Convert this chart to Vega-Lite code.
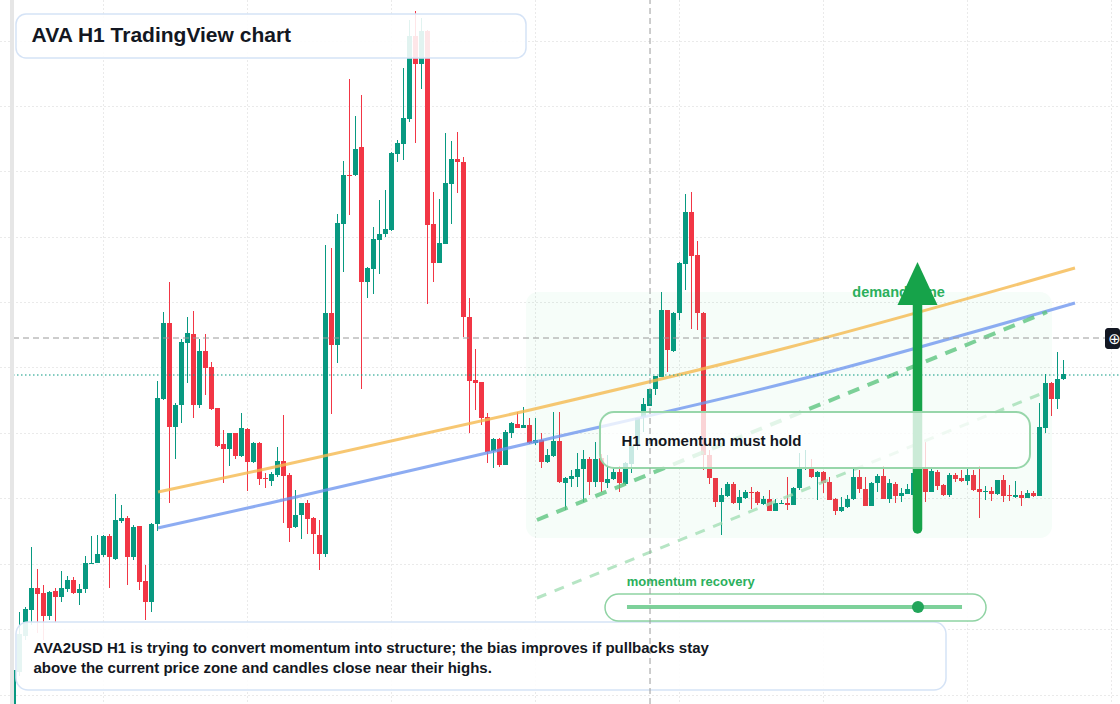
{
  "$schema": "https://vega.github.io/schema/vega-lite/v6.json",
  "width": 1120,
  "height": 704,
  "autosize": {"type": "none"},
  "padding": 0,
  "background": "#ffffff",
  "config": {
    "view": {"stroke": null},
    "font": "Liberation Sans",
    "scale": {"continuousPadding": 0},
    "axis": {"labels": false, "ticks": false, "domain": false, "title": null, "minExtent": 0, "maxExtent": 0, "labelPadding": 0, "tickSize": 0, "offset": 0, "titlePadding": 0}
  },
  "data": {"values": [{"k": 1}]},
  "datasets": {
    "candles": [
      {"i":0,"o":0.296,"h":0.332,"l":0.296,"c":0.330},
      {"i":1,"o":0.328,"h":0.388,"l":0.324,"c":0.366},
      {"i":2,"o":0.364,"h":0.393,"l":0.360,"c":0.391},
      {"i":3,"o":0.390,"h":0.453,"l":0.375,"c":0.412},
      {"i":4,"o":0.412,"h":0.431,"l":0.367,"c":0.406},
      {"i":5,"o":0.407,"h":0.415,"l":0.360,"c":0.384},
      {"i":6,"o":0.384,"h":0.409,"l":0.380,"c":0.408},
      {"i":7,"o":0.409,"h":0.412,"l":0.378,"c":0.403},
      {"i":8,"o":0.403,"h":0.429,"l":0.398,"c":0.412},
      {"i":9,"o":0.411,"h":0.424,"l":0.408,"c":0.420},
      {"i":10,"o":0.420,"h":0.423,"l":0.406,"c":0.407},
      {"i":11,"o":0.407,"h":0.416,"l":0.395,"c":0.411},
      {"i":12,"o":0.411,"h":0.444,"l":0.407,"c":0.437},
      {"i":13,"o":0.436,"h":0.464,"l":0.436,"c":0.437},
      {"i":14,"o":0.437,"h":0.465,"l":0.437,"c":0.446},
      {"i":15,"o":0.445,"h":0.465,"l":0.443,"c":0.464},
      {"i":16,"o":0.464,"h":0.466,"l":0.412,"c":0.443},
      {"i":17,"o":0.441,"h":0.506,"l":0.440,"c":0.480},
      {"i":18,"o":0.479,"h":0.495,"l":0.477,"c":0.482},
      {"i":19,"o":0.482,"h":0.484,"l":0.415,"c":0.443},
      {"i":20,"o":0.443,"h":0.475,"l":0.440,"c":0.473},
      {"i":21,"o":0.474,"h":0.474,"l":0.410,"c":0.418},
      {"i":22,"o":0.419,"h":0.435,"l":0.380,"c":0.398},
      {"i":23,"o":0.398,"h":0.477,"l":0.388,"c":0.476},
      {"i":24,"o":0.476,"h":0.619,"l":0.469,"c":0.602},
      {"i":25,"o":0.601,"h":0.688,"l":0.600,"c":0.677},
      {"i":26,"o":0.677,"h":0.718,"l":0.497,"c":0.573},
      {"i":27,"o":0.573,"h":0.597,"l":0.541,"c":0.595},
      {"i":28,"o":0.595,"h":0.661,"l":0.577,"c":0.658},
      {"i":29,"o":0.657,"h":0.683,"l":0.617,"c":0.667},
      {"i":30,"o":0.666,"h":0.689,"l":0.582,"c":0.595},
      {"i":31,"o":0.595,"h":0.661,"l":0.592,"c":0.649},
      {"i":32,"o":0.649,"h":0.666,"l":0.605,"c":0.632},
      {"i":33,"o":0.633,"h":0.638,"l":0.590,"c":0.591},
      {"i":34,"o":0.592,"h":0.592,"l":0.553,"c":0.554},
      {"i":35,"o":0.556,"h":0.570,"l":0.517,"c":0.551},
      {"i":36,"o":0.551,"h":0.567,"l":0.534,"c":0.567},
      {"i":37,"o":0.567,"h":0.567,"l":0.541,"c":0.544},
      {"i":38,"o":0.544,"h":0.587,"l":0.543,"c":0.572},
      {"i":39,"o":0.571,"h":0.572,"l":0.509,"c":0.538},
      {"i":40,"o":0.538,"h":0.558,"l":0.537,"c":0.557},
      {"i":41,"o":0.557,"h":0.558,"l":0.515,"c":0.521},
      {"i":42,"o":0.522,"h":0.527,"l":0.512,"c":0.521},
      {"i":43,"o":0.519,"h":0.528,"l":0.514,"c":0.526},
      {"i":44,"o":0.525,"h":0.553,"l":0.523,"c":0.539},
      {"i":45,"o":0.539,"h":0.585,"l":0.477,"c":0.524},
      {"i":46,"o":0.525,"h":0.527,"l":0.458,"c":0.472},
      {"i":47,"o":0.473,"h":0.510,"l":0.472,"c":0.485},
      {"i":48,"o":0.485,"h":0.497,"l":0.461,"c":0.497},
      {"i":49,"o":0.497,"h":0.500,"l":0.466,"c":0.481},
      {"i":50,"o":0.482,"h":0.483,"l":0.446,"c":0.466},
      {"i":51,"o":0.465,"h":0.480,"l":0.430,"c":0.446},
      {"i":52,"o":0.446,"h":0.755,"l":0.443,"c":0.687},
      {"i":53,"o":0.687,"h":0.752,"l":0.586,"c":0.655},
      {"i":54,"o":0.655,"h":0.786,"l":0.637,"c":0.777},
      {"i":55,"o":0.776,"h":0.839,"l":0.728,"c":0.825},
      {"i":56,"o":0.825,"h":0.921,"l":0.785,"c":0.824},
      {"i":57,"o":0.825,"h":0.884,"l":0.824,"c":0.851},
      {"i":58,"o":0.853,"h":0.905,"l":0.611,"c":0.718},
      {"i":59,"o":0.718,"h":0.733,"l":0.702,"c":0.732},
      {"i":60,"o":0.731,"h":0.773,"l":0.706,"c":0.761},
      {"i":61,"o":0.760,"h":0.800,"l":0.726,"c":0.766},
      {"i":62,"o":0.766,"h":0.810,"l":0.763,"c":0.771},
      {"i":63,"o":0.770,"h":0.848,"l":0.769,"c":0.847},
      {"i":64,"o":0.846,"h":0.860,"l":0.838,"c":0.857},
      {"i":65,"o":0.856,"h":0.932,"l":0.840,"c":0.882},
      {"i":66,"o":0.881,"h":0.980,"l":0.878,"c":0.964},
      {"i":67,"o":0.964,"h":0.989,"l":0.857,"c":0.936},
      {"i":68,"o":0.936,"h":0.982,"l":0.911,"c":0.969},
      {"i":69,"o":0.969,"h":0.970,"l":0.696,"c":0.775},
      {"i":70,"o":0.776,"h":0.808,"l":0.718,"c":0.737},
      {"i":71,"o":0.737,"h":0.801,"l":0.737,"c":0.757},
      {"i":72,"o":0.756,"h":0.867,"l":0.756,"c":0.817},
      {"i":73,"o":0.816,"h":0.859,"l":0.776,"c":0.841},
      {"i":74,"o":0.841,"h":0.868,"l":0.807,"c":0.838},
      {"i":75,"o":0.838,"h":0.843,"l":0.663,"c":0.683},
      {"i":76,"o":0.683,"h":0.702,"l":0.567,"c":0.619},
      {"i":77,"o":0.620,"h":0.651,"l":0.590,"c":0.617},
      {"i":78,"o":0.618,"h":0.618,"l":0.575,"c":0.582},
      {"i":79,"o":0.583,"h":0.587,"l":0.537,"c":0.548},
      {"i":80,"o":0.549,"h":0.562,"l":0.532,"c":0.561},
      {"i":81,"o":0.561,"h":0.562,"l":0.533,"c":0.535},
      {"i":82,"o":0.535,"h":0.570,"l":0.535,"c":0.568},
      {"i":83,"o":0.567,"h":0.578,"l":0.562,"c":0.577},
      {"i":84,"o":0.576,"h":0.588,"l":0.572,"c":0.572},
      {"i":85,"o":0.572,"h":0.593,"l":0.572,"c":0.575},
      {"i":86,"o":0.575,"h":0.582,"l":0.556,"c":0.557},
      {"i":87,"o":0.557,"h":0.582,"l":0.555,"c":0.560},
      {"i":88,"o":0.560,"h":0.567,"l":0.532,"c":0.538},
      {"i":89,"o":0.538,"h":0.551,"l":0.537,"c":0.545},
      {"i":90,"o":0.544,"h":0.588,"l":0.543,"c":0.559},
      {"i":91,"o":0.559,"h":0.588,"l":0.517,"c":0.518},
      {"i":92,"o":0.517,"h":0.523,"l":0.490,"c":0.522},
      {"i":93,"o":0.521,"h":0.530,"l":0.513,"c":0.524},
      {"i":94,"o":0.523,"h":0.547,"l":0.513,"c":0.531},
      {"i":95,"o":0.531,"h":0.550,"l":0.498,"c":0.541},
      {"i":96,"o":0.541,"h":0.543,"l":0.505,"c":0.518},
      {"i":97,"o":0.518,"h":0.558,"l":0.513,"c":0.541},
      {"i":98,"o":0.542,"h":0.546,"l":0.508,"c":0.518},
      {"i":99,"o":0.517,"h":0.545,"l":0.512,"c":0.521},
      {"i":100,"o":0.521,"h":0.533,"l":0.520,"c":0.528},
      {"i":101,"o":0.528,"h":0.534,"l":0.508,"c":0.517},
      {"i":102,"o":0.516,"h":0.538,"l":0.515,"c":0.537},
      {"i":103,"o":0.536,"h":0.554,"l":0.527,"c":0.554},
      {"i":104,"o":0.554,"h":0.582,"l":0.550,"c":0.582},
      {"i":105,"o":0.583,"h":0.602,"l":0.568,"c":0.596},
      {"i":106,"o":0.594,"h":0.611,"l":0.594,"c":0.611},
      {"i":107,"o":0.611,"h":0.624,"l":0.605,"c":0.624},
      {"i":108,"o":0.623,"h":0.708,"l":0.623,"c":0.690},
      {"i":109,"o":0.690,"h":0.690,"l":0.628,"c":0.650},
      {"i":110,"o":0.649,"h":0.688,"l":0.648,"c":0.687},
      {"i":111,"o":0.687,"h":0.738,"l":0.680,"c":0.737},
      {"i":112,"o":0.736,"h":0.806,"l":0.710,"c":0.788},
      {"i":113,"o":0.788,"h":0.808,"l":0.671,"c":0.744},
      {"i":114,"o":0.745,"h":0.759,"l":0.670,"c":0.687},
      {"i":115,"o":0.687,"h":0.688,"l":0.530,"c":0.545},
      {"i":116,"o":0.545,"h":0.550,"l":0.516,"c":0.522},
      {"i":117,"o":0.522,"h":0.522,"l":0.493,"c":0.498},
      {"i":118,"o":0.498,"h":0.512,"l":0.465,"c":0.505},
      {"i":119,"o":0.504,"h":0.518,"l":0.503,"c":0.516},
      {"i":120,"o":0.516,"h":0.518,"l":0.496,"c":0.497},
      {"i":121,"o":0.497,"h":0.510,"l":0.490,"c":0.503},
      {"i":122,"o":0.502,"h":0.510,"l":0.501,"c":0.508},
      {"i":123,"o":0.508,"h":0.513,"l":0.491,"c":0.507},
      {"i":124,"o":0.508,"h":0.509,"l":0.495,"c":0.497},
      {"i":125,"o":0.496,"h":0.504,"l":0.495,"c":0.501},
      {"i":126,"o":0.501,"h":0.510,"l":0.489,"c":0.489},
      {"i":127,"o":0.489,"h":0.501,"l":0.489,"c":0.497},
      {"i":128,"o":0.496,"h":0.500,"l":0.496,"c":0.497},
      {"i":129,"o":0.497,"h":0.523,"l":0.490,"c":0.495},
      {"i":130,"o":0.495,"h":0.513,"l":0.495,"c":0.512},
      {"i":131,"o":0.512,"h":0.547,"l":0.510,"c":0.532},
      {"i":132,"o":0.531,"h":0.550,"l":0.530,"c":0.532},
      {"i":133,"o":0.532,"h":0.541,"l":0.522,"c":0.523},
      {"i":134,"o":0.523,"h":0.529,"l":0.500,"c":0.528},
      {"i":135,"o":0.528,"h":0.529,"l":0.507,"c":0.517},
      {"i":136,"o":0.518,"h":0.523,"l":0.500,"c":0.500},
      {"i":137,"o":0.501,"h":0.502,"l":0.485,"c":0.489},
      {"i":138,"o":0.489,"h":0.503,"l":0.488,"c":0.493},
      {"i":139,"o":0.493,"h":0.505,"l":0.492,"c":0.501},
      {"i":140,"o":0.501,"h":0.532,"l":0.500,"c":0.523},
      {"i":141,"o":0.523,"h":0.530,"l":0.507,"c":0.511},
      {"i":142,"o":0.511,"h":0.523,"l":0.494,"c":0.494},
      {"i":143,"o":0.494,"h":0.518,"l":0.494,"c":0.517},
      {"i":144,"o":0.517,"h":0.526,"l":0.508,"c":0.524},
      {"i":145,"o":0.524,"h":0.534,"l":0.501,"c":0.501},
      {"i":146,"o":0.501,"h":0.521,"l":0.497,"c":0.517},
      {"i":147,"o":0.516,"h":0.518,"l":0.497,"c":0.504},
      {"i":148,"o":0.504,"h":0.512,"l":0.498,"c":0.507},
      {"i":149,"o":0.506,"h":0.516,"l":0.506,"c":0.511},
      {"i":150,"o":0.505,"h":0.529,"l":0.497,"c":0.527},
      {"i":151,"o":0.511,"h":0.530,"l":0.508,"c":0.524},
      {"i":152,"o":0.533,"h":0.558,"l":0.498,"c":0.508},
      {"i":153,"o":0.508,"h":0.531,"l":0.508,"c":0.529},
      {"i":154,"o":0.528,"h":0.530,"l":0.510,"c":0.514},
      {"i":155,"o":0.515,"h":0.516,"l":0.504,"c":0.505},
      {"i":156,"o":0.505,"h":0.527,"l":0.503,"c":0.525},
      {"i":157,"o":0.525,"h":0.527,"l":0.518,"c":0.521},
      {"i":158,"o":0.522,"h":0.530,"l":0.518,"c":0.519},
      {"i":159,"o":0.519,"h":0.533,"l":0.515,"c":0.525},
      {"i":160,"o":0.525,"h":0.530,"l":0.509,"c":0.510},
      {"i":161,"o":0.511,"h":0.534,"l":0.482,"c":0.508},
      {"i":162,"o":0.508,"h":0.514,"l":0.500,"c":0.509},
      {"i":163,"o":0.509,"h":0.513,"l":0.499,"c":0.506},
      {"i":164,"o":0.506,"h":0.520,"l":0.505,"c":0.520},
      {"i":165,"o":0.520,"h":0.525,"l":0.498,"c":0.504},
      {"i":166,"o":0.505,"h":0.515,"l":0.499,"c":0.504},
      {"i":167,"o":0.503,"h":0.519,"l":0.502,"c":0.505},
      {"i":168,"o":0.505,"h":0.509,"l":0.494,"c":0.502},
      {"i":169,"o":0.502,"h":0.510,"l":0.502,"c":0.507},
      {"i":170,"o":0.507,"h":0.509,"l":0.503,"c":0.504},
      {"i":171,"o":0.504,"h":0.597,"l":0.504,"c":0.573},
      {"i":172,"o":0.572,"h":0.626,"l":0.567,"c":0.617},
      {"i":173,"o":0.617,"h":0.618,"l":0.584,"c":0.601},
      {"i":174,"o":0.601,"h":0.648,"l":0.591,"c":0.621},
      {"i":175,"o":0.621,"h":0.640,"l":0.620,"c":0.626}
    ]
  },
  "layer": [
    {
      "data": {"name": "candles"},
      "mark": {"type": "rule", "strokeWidth": 1, "xOffset": 0.5},
      "encoding": {
        "x": {"field": "i", "type": "quantitative", "title": null,
              "scale": {"domain": [-2.1666667, 184.5], "nice": false, "zero": false, "padding": 0},
              "axis": {"grid": true, "values": [15, 39, 63, 87, 111, 135, 159, 183], "gridColor": "#d4d4d4", "gridDash": [1, 3], "gridWidth": 1}},
        "y": {"field": "l", "type": "quantitative", "title": null,
              "scale": {"domain": [0.296, 1.0], "nice": false, "zero": false, "padding": 0},
              "axis": {"grid": true, "values": [0.305, 0.371, 0.436, 0.502, 0.567, 0.633, 0.698, 0.763, 0.829, 0.894, 0.959], "gridColor": "#d4d4d4", "gridDash": [1, 3], "gridWidth": 1}},
        "y2": {"field": "h"},
        "color": {"condition": {"test": "datum.c >= datum.o", "value": "#089981"}, "value": "#f23645"}
      }
    },
    {
      "data": {"name": "candles"},
      "mark": {"type": "bar", "size": 5, "orient": "vertical", "xOffset": 0.5},
      "encoding": {
        "x": {"field": "i", "type": "quantitative", "title": null},
        "y": {"field": "o", "type": "quantitative", "title": null},
        "y2": {"field": "c"},
        "color": {"condition": {"test": "datum.c >= datum.o", "value": "#089981"}, "value": "#f23645"}
      }
    },
    {
      "mark": {"type": "rect", "fill": "#22c55e", "fillOpacity": 0.04, "cornerRadius": 12},
      "encoding": {"x": {"datum": 85.5}, "x2": {"datum": 173.17}, "y": {"datum": 0.708}, "y2": {"datum": 0.462}}
    },
    {
      "data": {"values": [{"i": 24.17, "p": 0.508}, {"i": 42.83, "p": 0.532}, {"i": 86.17, "p": 0.590}, {"i": 129.5, "p": 0.653}, {"i": 177, "p": 0.732}]},
      "mark": {"type": "line", "color": "#f5b94f", "strokeWidth": 3, "opacity": 0.8, "interpolate": "monotone"},
      "encoding": {"x": {"field": "i", "type": "quantitative", "title": null}, "y": {"field": "p", "type": "quantitative", "title": null}}
    },
    {
      "data": {"values": [{"i": 24.17, "p": 0.472}, {"i": 42.83, "p": 0.497}, {"i": 86.17, "p": 0.557}, {"i": 129.5, "p": 0.618}, {"i": 177, "p": 0.697}]},
      "mark": {"type": "line", "color": "#6d95ee", "strokeWidth": 3, "opacity": 0.78, "interpolate": "monotone"},
      "encoding": {"x": {"field": "i", "type": "quantitative", "title": null}, "y": {"field": "p", "type": "quantitative", "title": null}}
    },
    {
      "data": {"values": [{"i": 87.33, "p": 0.480}, {"i": 172.33, "p": 0.688}]},
      "mark": {"type": "line", "color": "#5ec47f", "strokeWidth": 4, "opacity": 0.8, "strokeDash": [12, 9]},
      "encoding": {"x": {"field": "i", "type": "quantitative", "title": null}, "y": {"field": "p", "type": "quantitative", "title": null}}
    },
    {
      "data": {"values": [{"i": 87.33, "p": 0.402}, {"i": 171.67, "p": 0.607}]},
      "mark": {"type": "line", "color": "#9edcb0", "strokeWidth": 3, "opacity": 0.75, "strokeDash": [10, 9]},
      "encoding": {"x": {"field": "i", "type": "quantitative", "title": null}, "y": {"field": "p", "type": "quantitative", "title": null}}
    },
    {
      "mark": {"type": "rule", "color": "#9a9a9a", "strokeWidth": 1, "strokeDash": [6, 4]},
      "encoding": {"x": {"datum": 0}, "x2": {"datum": 182}, "y": {"datum": 0.662}}
    },
    {
      "mark": {"type": "rule", "color": "#089981", "strokeWidth": 1.2, "strokeDash": [1.5, 2.5]},
      "encoding": {"x": {"datum": 0}, "x2": {"datum": 184.5}, "y": {"datum": 0.625}}
    },
    {
      "mark": {"type": "text", "text": "demand zone", "color": "#2bb05c", "fontSize": 14.5, "fontWeight": "bold", "align": "center", "baseline": "middle"},
      "encoding": {"x": {"datum": 147.6}, "y": {"datum": 0.707}}
    },
    {
      "mark": {"type": "rule", "color": "#16a34a", "strokeWidth": 9.5, "strokeCap": "round"},
      "encoding": {"x": {"datum": 150.75}, "y": {"datum": 0.471}, "y2": {"datum": 0.702}}
    },
    {
      "mark": {"type": "point", "shape": "M0,-1L0.93,1L-0.93,1Z", "size": 1849, "filled": true, "color": "#16a34a", "opacity": 1},
      "encoding": {"x": {"datum": 150.75}, "y": {"datum": 0.7165}}
    },
    {
      "mark": {"type": "rect", "fill": "#ffffff", "fillOpacity": 0.88, "stroke": "#d5e3f6", "strokeWidth": 1.5, "cornerRadius": 10},
      "encoding": {"x": {"datum": 0.5}, "x2": {"datum": 85.5}, "y": {"datum": 0.986}, "y2": {"datum": 0.942}}
    },
    {
      "mark": {"type": "rect", "fill": "#ffffff", "fillOpacity": 0.9, "stroke": "#d5e3f6", "strokeWidth": 1.5, "cornerRadius": 12},
      "encoding": {"x": {"datum": 0.5}, "x2": {"datum": 155.5}, "y": {"datum": 0.378}, "y2": {"datum": 0.310}}
    },
    {
      "mark": {"type": "rect", "fill": "#ffffff", "fillOpacity": 0.78, "stroke": "#97d6aa", "strokeWidth": 2, "cornerRadius": 14},
      "encoding": {"x": {"datum": 97.83}, "x2": {"datum": 169.5}, "y": {"datum": 0.588}, "y2": {"datum": 0.532}}
    },
    {
      "mark": {"type": "rect", "fill": "#ffffff", "fillOpacity": 0.9, "stroke": "#8fd3a3", "strokeWidth": 1.5, "cornerRadius": 13.5},
      "encoding": {"x": {"datum": 98.67}, "x2": {"datum": 162.17}, "y": {"datum": 0.406}, "y2": {"datum": 0.379}}
    },
    {
      "mark": {"type": "rule", "color": "#7dd19a", "strokeWidth": 4},
      "encoding": {"x": {"datum": 102.33}, "x2": {"datum": 158.17}, "y": {"datum": 0.393}}
    },
    {
      "mark": {"type": "point", "shape": "circle", "size": 145, "filled": true, "color": "#22a55a", "opacity": 1},
      "encoding": {"x": {"datum": 150.83}, "y": {"datum": 0.393}}
    },
    {
      "mark": {"type": "rule", "color": "#9a9a9a", "strokeWidth": 1, "strokeDash": [6, 4]},
      "encoding": {"x": {"datum": 106.17}, "y": {"datum": 0.296}, "y2": {"datum": 1.0}}
    },
    {
      "mark": {"type": "text", "text": "AVA H1 TradingView chart", "color": "#131722", "fontSize": 21, "fontWeight": "bold", "align": "left", "baseline": "middle"},
      "encoding": {"x": {"datum": 3.1}, "y": {"datum": 0.964}}
    },
    {
      "mark": {"type": "text", "text": "AVA2USD H1 is trying to convert momentum into structure; the bias improves if pullbacks stay", "color": "#131722", "fontSize": 15, "fontWeight": "bold", "align": "left", "baseline": "middle"},
      "encoding": {"x": {"datum": 3.4}, "y": {"datum": 0.352}}
    },
    {
      "mark": {"type": "text", "text": "above the current price zone and candles close near their highs.", "color": "#131722", "fontSize": 15, "fontWeight": "bold", "align": "left", "baseline": "middle"},
      "encoding": {"x": {"datum": 3.4}, "y": {"datum": 0.332}}
    },
    {
      "mark": {"type": "text", "text": "H1 momentum must hold", "color": "#131722", "fontSize": 15, "fontWeight": "bold", "align": "left", "baseline": "middle"},
      "encoding": {"x": {"datum": 101.4}, "y": {"datum": 0.559}}
    },
    {
      "mark": {"type": "text", "text": "momentum recovery", "color": "#2bb05c", "fontSize": 13, "fontWeight": "bold", "align": "left", "baseline": "middle"},
      "encoding": {"x": {"datum": 102.3}, "y": {"datum": 0.418}}
    },
    {
      "mark": {"type": "rect", "fill": "#e6e6e6"},
      "encoding": {"x": {"datum": -0.5}, "x2": {"datum": 0.1667}, "y": {"datum": 0.296}, "y2": {"datum": 1.0}}
    },
    {
      "mark": {"type": "rect", "fill": "#131722", "cornerRadius": 3},
      "encoding": {"x": {"datum": 182}, "x2": {"datum": 184.5}, "y": {"datum": 0.672}, "y2": {"datum": 0.651}}
    },
    {
      "mark": {"type": "text", "text": "⊕", "color": "#ffffff", "fontSize": 15, "font": "DejaVu Sans", "align": "center", "baseline": "middle"},
      "encoding": {"x": {"datum": 183.6}, "y": {"datum": 0.6615}}
    }
  ]
}
